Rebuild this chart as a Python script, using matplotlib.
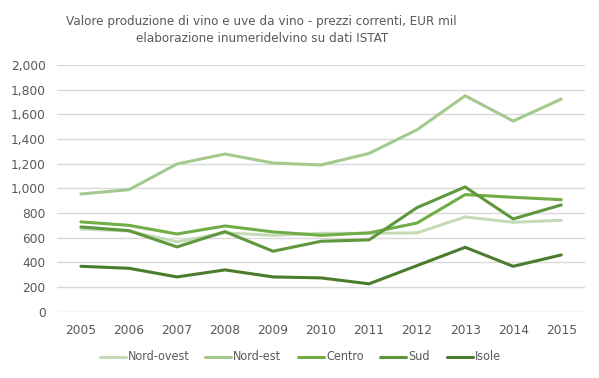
import matplotlib.pyplot as plt
from matplotlib.lines import Line2D
from matplotlib.ticker import FuncFormatter

# ---- data (EUR mil) ----
years = ["2005", "2006", "2007", "2008", "2009", "2010",
         "2011", "2012", "2013", "2014", "2015"]
nord_ovest = [672, 655, 567, 640, 620, 636, 636, 640, 769, 726, 742]
nord_est = [955, 990, 1198, 1279, 1206, 1190, 1284, 1476, 1751, 1546, 1724]
centro = [729, 701, 631, 696, 648, 620, 640, 720, 950, 928, 909]
sud = [688, 658, 526, 650, 491, 572, 583, 845, 1012, 753, 866]
isole = [369, 353, 283, 340, 283, 275, 227, 375, 523, 369, 461]

series = [("Nord-ovest", nord_ovest, "#c5dbb8"),
          ("Nord-est", nord_est, "#a5c98c"),
          ("Centro", centro, "#70ad47"),
          ("Sud", sud, "#5f973d"),
          ("Isole", isole, "#4b7b2d")]

txt = "#595959"
W, H = 599, 378

fig = plt.figure(figsize=(W / 100, H / 100), dpi=100)
ax = fig.add_axes([0.095, 0.175, 0.882, 0.653])

x = list(range(len(years)))
for name, vals, col in series:
    ax.plot(x, vals, color=col, lw=2.2, label=name, solid_capstyle="round")

ax.set_xlim(-0.5, len(years) - 0.5)
ax.set_ylim(0, 2000)
ax.set_yticks(range(0, 2001, 200))
ax.yaxis.set_major_formatter(FuncFormatter(lambda v, p: f"{int(v):,}"))
ax.set_xticks(x)
ax.set_xticklabels(years)
ax.grid(axis="y", color="#d9d9d9", lw=1)
ax.set_axisbelow(True)
for s in ax.spines.values():
    s.set_visible(False)
ax.tick_params(length=0, colors=txt, labelsize=8.8, pad=9)
ax.tick_params(axis="y", pad=8)

fig.text(0.437, 0.921, "Valore produzione di vino e uve da vino - prezzi correnti, EUR mil\n"
         "elaborazione inumeridelvino su dati ISTAT",
         ha="center", va="center", fontsize=9.6, color=txt,
         family="DejaVu Sans", fontstretch="condensed", linespacing=1.45)

# ---- legend, laid out by hand (one row under the axis) ----
leg_x = [100, 205, 298, 380, 447]     # left end of each legend line, px
leg_y = 1 - 357 / H
for (name, vals, col), lx in zip(series, leg_x):
    fig.add_artist(Line2D([lx / W, (lx + 26) / W], [leg_y, leg_y],
                          color=col, lw=2.2, solid_capstyle="round"))
    fig.text((lx + 28) / W, leg_y, name, ha="left", va="center", color=txt,
             fontsize=9, family="DejaVu Sans", fontstretch="condensed")

fig.savefig("out.png", dpi=100)
